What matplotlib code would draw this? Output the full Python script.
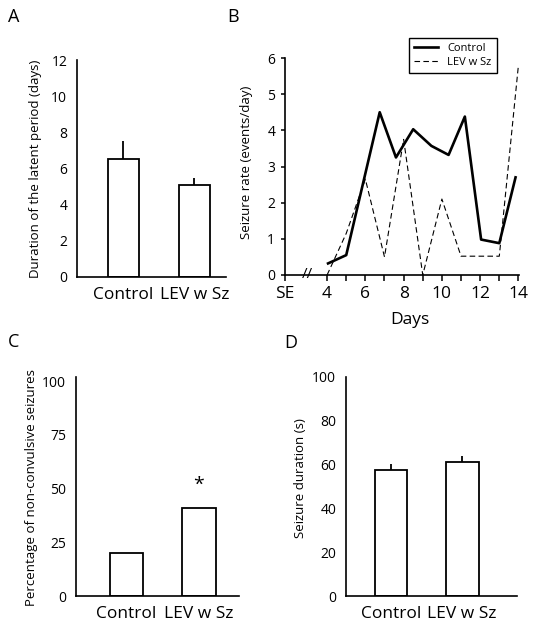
import numpy as np
import matplotlib
matplotlib.use('Agg')
import matplotlib.pyplot as plt

plt.rcParams['font.family'] = ['Open Sans', 'DejaVu Sans']
plt.rcParams['axes.linewidth'] = 1.2

# data
groups = ['Control', 'LEV w Sz']

latent_mean = [6.5, 5.1]
latent_err = [1.0, 0.4]

days_ctrl = [4.05, 5.0, 6.75, 7.6, 8.5, 9.45, 10.35, 11.2, 12.05, 13.0, 13.85]
rate_ctrl = [0.32, 0.55, 4.5, 3.25, 4.03, 3.57, 3.32, 4.38, 0.98, 0.88, 2.7]
days_lev = [4, 5, 6, 7, 8, 9, 10, 11, 12, 13, 14]
rate_lev = [0.0, 1.15, 2.65, 0.5, 3.75, 0.0, 2.1, 0.52, 0.52, 0.52, 5.8]

nonconv_pct = [20, 41]

dur_mean = [57.5, 61]
dur_err = [3, 3]

W, H = 539, 626
fig = plt.figure(figsize=(W / 100, H / 100), dpi=100)


def rect(l, r, t, b):
    return [l / W, 1 - b / H, (r - l) / W, (b - t) / H]


def bar_panel(ax, vals, errs, xlim, ylim, yticks, width, ylabel, lab_xy):
    x = np.arange(1, len(vals) + 1)
    ax.bar(x, vals, width=width, color='white', edgecolor='black', lw=1.3, zorder=2)
    if errs is not None:
        ax.errorbar(x, vals, yerr=[np.zeros(len(errs)), errs], fmt='none',
                    ecolor='black', elinewidth=1.3, capsize=0, zorder=1)
    ax.set_xlim(*xlim)
    ax.set_ylim(*ylim)
    ax.set_yticks(yticks)
    ax.set_xticks(x)
    ax.set_xticklabels(groups, fontsize=12.5)
    ax.tick_params(axis='y', length=0, labelsize=10, pad=7)
    ax.tick_params(axis='x', length=0, pad=7)
    for s in ['top', 'right']:
        ax.spines[s].set_visible(False)
    ax.set_ylabel(ylabel, fontsize=9.5)
    ax.yaxis.set_label_coords(*lab_xy)


# A
axA = fig.add_axes(rect(77, 226, 60, 277))
bar_panel(axA, latent_mean, latent_err, (0.345, 2.444), (0, 12), range(0, 13, 2), 0.437,
          'Duration of the latent period (days)', (-0.235, 0.5))

# B
axB = fig.add_axes(rect(285, 519, 58, 275))
axB.plot(days_ctrl, rate_ctrl, color='black', lw=1.9, label='Control')
axB.plot(days_lev, rate_lev, color='black', lw=0.8, ls=(0, (5, 3)), label='LEV w Sz')
axB.set_xlim(1.8, 14.03)
axB.set_ylim(0, 6)
axB.set_yticks(range(0, 7))
axB.set_xticks([1.8] + list(range(4, 15)))
axB.set_xticklabels(['SE'] + [str(d) if d % 2 == 0 else '' for d in range(4, 15)], fontsize=12.5)
axB.tick_params(axis='x', length=4, width=1.1, pad=4)
axB.tick_params(axis='y', length=3, width=1.1, labelsize=10, pad=4)
for s in ['top', 'right']:
    axB.spines[s].set_visible(False)
axB.set_ylabel('Seizure rate (events/day)', fontsize=9.5)
axB.yaxis.set_label_coords(-0.137, 0.52)
axB.set_xlabel('Days', fontsize=12.5)
axB.xaxis.set_label_coords(0.534, -0.17)
axB.text(3.0, 0, '//', ha='center', va='center', fontsize=11, clip_on=False)
leg = axB.legend(loc='upper left', bbox_to_anchor=(409 / W, 1 - 38 / H),
                 bbox_transform=fig.transFigure, borderaxespad=0, fontsize=8,
                 fancybox=False, edgecolor='black', handlelength=2.2,
                 borderpad=0.45, labelspacing=0.25, framealpha=1)
leg.get_frame().set_linewidth(1.0)

# C
axC = fig.add_axes(rect(76, 239, 377, 596))
bar_panel(axC, nonconv_pct, None, (0.30, 2.56), (0, 102), [0, 25, 50, 75, 100], 0.47,
          'Percentage of non-convulsive seizures', (-0.233, 0.495))
axC.text(2, 52, '*', ha='center', va='center', fontsize=14)

# D
axD = fig.add_axes(rect(346, 517, 377, 596))
bar_panel(axD, dur_mean, dur_err, (0.366, 2.77), (0, 100), range(0, 101, 20), 0.46,
          'Seizure duration (s)', (-0.23, 0.54))

# panel letters
for lab, (px, py) in zip('ABCD', [(14, 17), (233, 17), (14, 342), (291, 343)]):
    fig.text(px / W, 1 - py / H, lab, ha='center', va='center', fontsize=13)

fig.savefig('out.png', dpi=100)
